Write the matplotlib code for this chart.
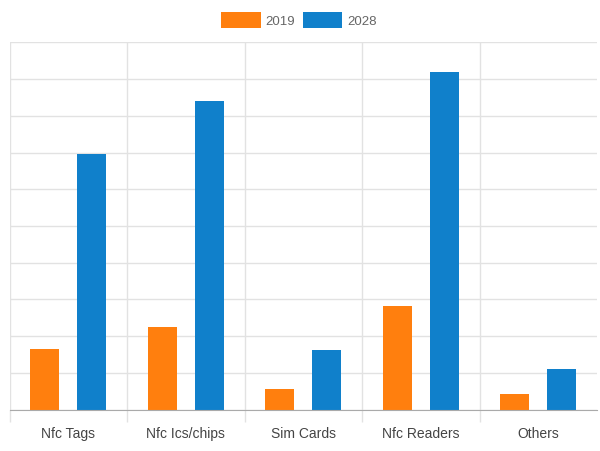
import matplotlib
matplotlib.use("Agg")
import matplotlib.pyplot as plt
import numpy as np

categories = ["Nfc Tags", "Nfc Ics/chips", "Sim Cards", "Nfc Readers", "Others"]
values_2019 = [1.65, 2.26, 0.57, 2.83, 0.44]
values_2028 = [6.95, 8.39, 1.62, 9.20, 1.11]

plt.rcParams['font.family'] = ['Liberation Sans', 'DejaVu Sans']

fig = plt.figure(figsize=(6, 4.52), dpi=100)
ax = fig.add_axes([9.5 / 600, 1 - 410.7 / 452, 587.5 / 600, 367.4 / 452])

x = np.arange(len(categories))
w = 0.243
ax.bar(x - 0.2, values_2019, w, color='#ff7f0e', label='2019', zorder=3)
ax.bar(x + 0.2, values_2028, w, color='#1080cb', label='2028', zorder=3)

ax.set_xlim(-0.5, len(categories) - 0.5)
ax.set_ylim(0, 10)
ax.set_yticks(np.arange(0, 11, 1))
ax.set_yticklabels([])
ax.tick_params(axis='y', length=0)

ax.set_xticks(x)
ax.set_xticklabels(categories, fontsize=10, color='#444444')
ax.tick_params(axis='x', which='major', length=0, pad=11.5)
ax.set_xticks(np.arange(-0.5, len(categories) - 0.5, 1), minor=True)
ax.tick_params(axis='x', which='minor', length=8.6, color='#e2e2e2', width=1)

ax.grid(axis='y', color='#e2e2e2', linewidth=1, zorder=0)
ax.grid(axis='x', which='minor', color='#e2e2e2', linewidth=1, zorder=0)
ax.grid(axis='x', which='major', visible=False)

for s in ['top', 'right', 'left']:
    ax.spines[s].set_visible(False)
ax.spines['bottom'].set_color('#aaaaaa')
ax.spines['bottom'].set_zorder(4)

leg = fig.legend(loc='center', bbox_to_anchor=(0.498, 1 - 21 / 452), ncol=2, frameon=False,
                 fontsize=9.5, handlelength=3.0, handleheight=1.5, columnspacing=0.6,
                 handletextpad=0.35, borderaxespad=0)
for t in leg.get_texts():
    t.set_color('#666666')

fig.savefig('out.png', dpi=100)
